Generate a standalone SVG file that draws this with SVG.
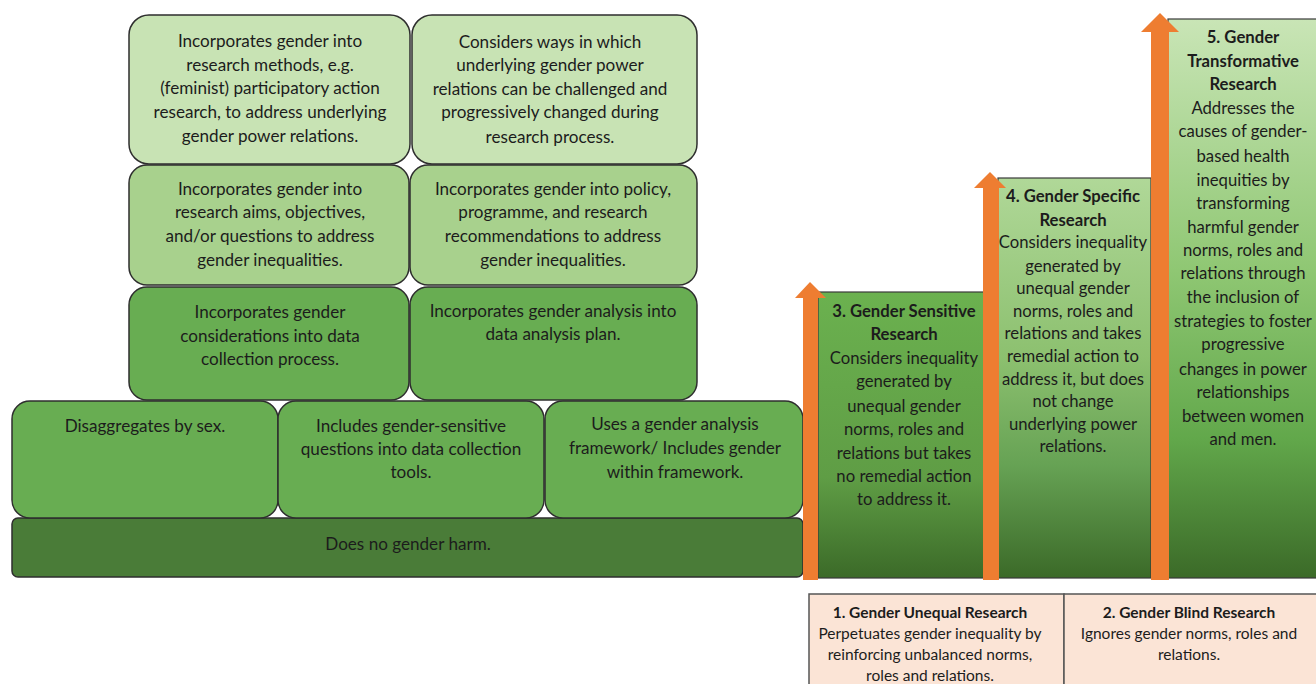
<svg xmlns="http://www.w3.org/2000/svg" width="1316" height="684" viewBox="0 0 1316 684">
<style>
.t{font-family:Lato,"Liberation Sans",sans-serif;font-size:17.1px;fill:#1c1c1c;text-anchor:middle}
.c{font-size:16.7px}
.b{font-weight:bold}
.s{font-size:15.5px}
.box{stroke:#2e2e2e;stroke-width:1.5}
.l1{fill:#c8e3b4}
.l2{fill:#a8d18d}
.l3{fill:#68ad52}
.l4{fill:#4a7c38}
.col{stroke:#3a3a3a;stroke-width:1.2}
.arr{fill:#ee7d31}
.pk{fill:#fbe4d6;stroke:#555;stroke-width:1.5}
</style>
<defs>
<linearGradient id="g3" x1="0" y1="0" x2="0" y2="1">
<stop offset="0" stop-color="#6bb14f"/><stop offset="0.65" stop-color="#5f9d45"/><stop offset="1" stop-color="#3b6a28"/>
</linearGradient>
<linearGradient id="g4" x1="0" y1="0" x2="0" y2="1">
<stop offset="0" stop-color="#b0d898"/><stop offset="0.45" stop-color="#8cc06f"/><stop offset="0.72" stop-color="#66a254"/><stop offset="1" stop-color="#3b6a28"/>
</linearGradient>
<linearGradient id="g5" x1="0" y1="0" x2="0" y2="1">
<stop offset="0" stop-color="#c9e5b6"/><stop offset="0.45" stop-color="#8fc773"/><stop offset="0.75" stop-color="#62a84b"/><stop offset="1" stop-color="#3b6a28"/>
</linearGradient>
</defs>
<rect width="1316" height="684" fill="#fff"/>

<g id="base">
<rect class="box l4" x="12" y="518" width="791" height="59" rx="6"/>
<text class="t" x="408" y="550">Does no gender harm.</text>
</g>
<g id="sex">
<rect class="box l3" x="12" y="401" width="266" height="117" rx="18"/>
<text class="t" x="145" y="432">Disaggregates by sex.</text>
</g>
<g id="questions">
<rect class="box l3" x="278" y="401" width="266" height="117" rx="18"/>
<text class="t" x="411" y="432">Includes gender-sensitive</text>
<text class="t" x="411" y="455">questions into data collection</text>
<text class="t" x="411" y="478">tools.</text>
</g>
<g id="framework">
<rect class="box l3" x="545" y="401" width="258" height="117" rx="18"/>
<text class="t" x="675" y="430">Uses a gender analysis</text>
<text class="t" x="675" y="454">framework/ Includes gender</text>
<text class="t" x="675" y="478">within framework.</text>
</g>
<g id="collection">
<rect class="box l3" x="129" y="287" width="280" height="113" rx="18"/>
<text class="t" x="270" y="318">Incorporates gender</text>
<text class="t" x="270" y="342">considerations into data</text>
<text class="t" x="270" y="365">collection process.</text>
</g>
<g id="analysis">
<rect class="box l3" x="410" y="287" width="287" height="113" rx="18"/>
<text class="t" x="553" y="317">Incorporates gender analysis into</text>
<text class="t" x="553" y="340">data analysis plan.</text>
</g>
<g id="aims">
<rect class="box l2" x="129" y="165" width="280" height="120" rx="18"/>
<text class="t" x="270" y="195">Incorporates gender into</text>
<text class="t" x="270" y="218">research aims, objectives,</text>
<text class="t" x="270" y="242">and/or questions to address</text>
<text class="t" x="270" y="266">gender inequalities.</text>
</g>
<g id="policy">
<rect class="box l2" x="410" y="165" width="287" height="120" rx="18"/>
<text class="t" x="553" y="195">Incorporates gender into policy,</text>
<text class="t" x="553" y="218">programme, and research</text>
<text class="t" x="553" y="242">recommendations to address</text>
<text class="t" x="553" y="266">gender inequalities.</text>
</g>
<g id="methods">
<rect class="box l1" x="129" y="15" width="281" height="149" rx="20"/>
<text class="t" x="270" y="47">Incorporates gender into</text>
<text class="t" x="270" y="71">research methods, e.g.</text>
<text class="t" x="270" y="94">(feminist) participatory action</text>
<text class="t" x="270" y="118">research, to address underlying</text>
<text class="t" x="270" y="142">gender power relations.</text>
</g>
<g id="challenge">
<rect class="box l1" x="412" y="15" width="285" height="149" rx="20"/>
<text class="t" x="550" y="48">Considers ways in which</text>
<text class="t" x="550" y="71">underlying gender power</text>
<text class="t" x="550" y="95">relations can be challenged and</text>
<text class="t" x="550" y="118">progressively changed during</text>
<text class="t" x="550" y="143">research process.</text>
</g>

<g id="sensitive">
<rect class="col" x="818" y="292" width="166" height="286" fill="url(#g3)"/>
<text class="t c b" x="904" y="317">3. Gender Sensitive</text>
<text class="t c b" x="904" y="340">Research</text>
<text class="t c" x="904" y="364">Considers inequality</text>
<text class="t c" x="904" y="387">generated by</text>
<text class="t c" x="904" y="412">unequal gender</text>
<text class="t c" x="904" y="435">norms, roles and</text>
<text class="t c" x="904" y="459">relations but takes</text>
<text class="t c" x="904" y="482">no remedial action</text>
<text class="t c" x="904" y="505">to address it.</text>
</g>
<g id="specific">
<rect class="col" x="998" y="178" width="153" height="400" fill="url(#g4)"/>
<text class="t c b" x="1073" y="202">4. Gender Specific</text>
<text class="t c b" x="1073" y="226">Research</text>
<text class="t c" x="1073" y="248">Considers inequality</text>
<text class="t c" x="1073" y="272">generated by</text>
<text class="t c" x="1073" y="294">unequal gender</text>
<text class="t c" x="1073" y="317">norms, roles and</text>
<text class="t c" x="1073" y="339">relations and takes</text>
<text class="t c" x="1073" y="362">remedial action to</text>
<text class="t c" x="1073" y="385">address it, but does</text>
<text class="t c" x="1073" y="407">not change</text>
<text class="t c" x="1073" y="430">underlying power</text>
<text class="t c" x="1073" y="452">relations.</text>
</g>
<g id="transformative">
<rect class="col" x="1168" y="19" width="150" height="559" fill="url(#g5)"/>
<text class="t c b" x="1243" y="43">5. Gender</text>
<text class="t c b" x="1243" y="67">Transformative</text>
<text class="t c b" x="1243" y="90">Research</text>
<text class="t c" x="1243" y="114">Addresses the</text>
<text class="t c" x="1243" y="137">causes of gender-</text>
<text class="t c" x="1243" y="162">based health</text>
<text class="t c" x="1243" y="186">inequities by</text>
<text class="t c" x="1243" y="209">transforming</text>
<text class="t c" x="1243" y="233">harmful gender</text>
<text class="t c" x="1243" y="256">norms, roles and</text>
<text class="t c" x="1243" y="279">relations through</text>
<text class="t c" x="1243" y="303">the inclusion of</text>
<text class="t c" x="1243" y="327">strategies to foster</text>
<text class="t c" x="1243" y="350">progressive</text>
<text class="t c" x="1243" y="375">changes in power</text>
<text class="t c" x="1243" y="398">relationships</text>
<text class="t c" x="1243" y="422">between women</text>
<text class="t c" x="1243" y="445">and men.</text>
</g>

<g id="connectors">
<polygon class="arr" points="810,282 826,298 818,298 818,580 803,580 803,298 795,298"/>
<polygon class="arr" points="990,172 1006,188 999,188 999,580 983,580 983,188 974,188"/>
<polygon class="arr" points="1160,13 1179,32 1169,32 1169,580 1151,580 1151,32 1141,32"/>
</g>

<g id="unequal">
<rect class="pk" x="809" y="594" width="255" height="92"/>
<text class="t s b" x="930" y="618">1. Gender Unequal Research</text>
<text class="t s" x="930" y="639">Perpetuates gender inequality by</text>
<text class="t s" x="930" y="660">reinforcing unbalanced norms,</text>
<text class="t s" x="930" y="681">roles and relations.</text>
</g>
<g id="blind">
<rect class="pk" x="1064" y="594" width="254" height="92"/>
<text class="t s b" x="1189" y="618">2. Gender Blind Research</text>
<text class="t s" x="1189" y="639">Ignores gender norms, roles and</text>
<text class="t s" x="1189" y="660">relations.</text>
</g>
</svg>
